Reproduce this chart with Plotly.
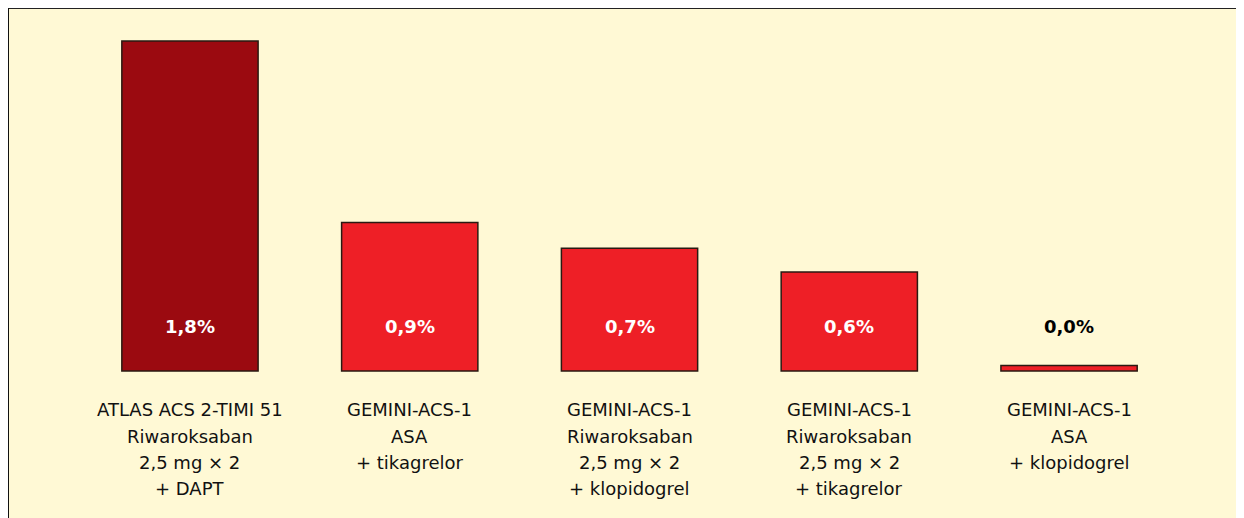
import plotly.graph_objects as go

# Data
categories = [
    ["ATLAS ACS 2-TIMI 51", "Riwaroksaban", "2,5 mg × 2", "+ DAPT"],
    ["GEMINI-ACS-1", "ASA", "+ tikagrelor"],
    ["GEMINI-ACS-1", "Riwaroksaban", "2,5 mg × 2", "+ klopidogrel"],
    ["GEMINI-ACS-1", "Riwaroksaban", "2,5 mg × 2", "+ tikagrelor"],
    ["GEMINI-ACS-1", "ASA", "+ klopidogrel"],
]
bar_heights = [1.80, 0.81, 0.67, 0.54, 0.03]   # heights as drawn in the picture
value_labels = ["1,8%", "0,9%", "0,7%", "0,6%", "0,0%"]
bar_colors = ["#9B0A10", "#EE1F26", "#EE1F26", "#EE1F26", "#EE1F26"]
label_colors = ["white", "white", "white", "white", "black"]

BG = "#FFF9D5"
x = list(range(len(bar_heights)))

fig = go.Figure()
fig.add_trace(go.Bar(
    x=x, y=bar_heights, width=0.62,
    marker=dict(color=bar_colors, line=dict(color="#2A1A12", width=1.5)),
    hoverinfo="skip",
))

annotations = []
for i, (lab, col) in enumerate(zip(value_labels, label_colors)):
    annotations.append(dict(
        x=i, y=0.24, xref="x", yref="y", text=f"<b>{lab}</b>", showarrow=False,
        font=dict(family="DejaVu Sans", size=18, color=col),
        xanchor="center", yanchor="middle",
    ))
for i, lines in enumerate(categories):
    for j, line in enumerate(lines):
        annotations.append(dict(
            x=i, y=0, xref="x", yref="y", text=line, showarrow=False,
            font=dict(family="DejaVu Sans", size=18, color="#111111"),
            xanchor="center", yanchor="middle", yshift=-(39 + 26.3 * j),
        ))

fig.update_layout(
    width=1236, height=510,
    margin=dict(l=0, r=0, t=0, b=0),
    paper_bgcolor="white", plot_bgcolor=BG,
    showlegend=False,
    xaxis=dict(range=[-0.828, 4.796], visible=False, fixedrange=True),
    yaxis=dict(range=[-0.802, 1.980], visible=False, fixedrange=True),
    annotations=annotations,
    shapes=[
        dict(type="line", xref="paper", yref="paper", x0=0, x1=1, y0=1, y1=1,
             line=dict(color="#222222", width=2)),
        dict(type="line", xref="paper", yref="paper", x0=0, x1=0, y0=0, y1=1,
             line=dict(color="#111111", width=2)),
    ],
)

fig.write_html("out.html")
